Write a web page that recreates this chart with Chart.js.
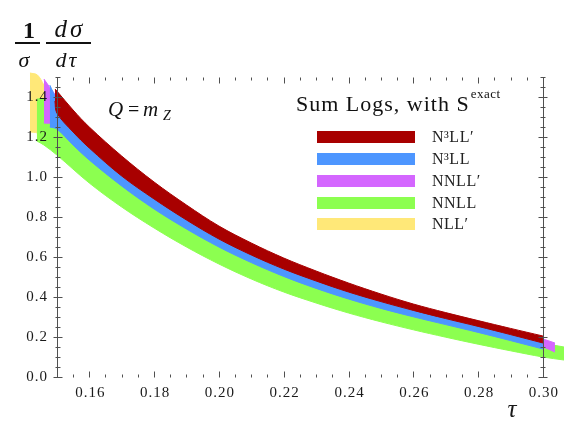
<!DOCTYPE html>
<html>
<head>
<meta charset="utf-8">
<script src="https://cdn.jsdelivr.net/npm/chart.js@4.4.0/dist/chart.umd.min.js"></script>
<style>
html, body { margin: 0; padding: 0; background: #fff; }
#wrap { width: 564px; height: 423px; }
</style>
</head>
<body>
<div id="wrap"><canvas id="thrustChart" width="564" height="423"></canvas></div>
<script>
// N3LL'
var tauN3LLp = [0.1494, 0.15, 0.155, 0.16, 0.17, 0.18, 0.19, 0.20, 0.21, 0.22, 0.23, 0.24, 0.25, 0.26, 0.27, 0.28, 0.29, 0.30];
var hiN3LLp  = [1.44, 1.43, 1.335, 1.25, 1.105, 0.975, 0.86, 0.755, 0.67, 0.595, 0.53, 0.47, 0.415, 0.365, 0.322, 0.282, 0.243, 0.205];
var loN3LLp  = [1.38, 1.32, 1.225, 1.145, 1.005, 0.89, 0.785, 0.69, 0.61, 0.54, 0.48, 0.425, 0.377, 0.333, 0.292, 0.253, 0.212, 0.17];

// N3LL
var tauN3LL = [0.1478, 0.15, 0.155, 0.16, 0.17, 0.18, 0.19, 0.20, 0.21, 0.22, 0.23, 0.24, 0.25, 0.26, 0.27, 0.28, 0.29, 0.30];
var hiN3LL  = [1.46, 1.39, 1.29, 1.19, 1.04, 0.925, 0.815, 0.72, 0.635, 0.565, 0.505, 0.445, 0.393, 0.348, 0.307, 0.268, 0.228, 0.185];
var loN3LL  = [1.25, 1.24, 1.16, 1.085, 0.955, 0.84, 0.74, 0.65, 0.572, 0.503, 0.443, 0.39, 0.343, 0.301, 0.262, 0.223, 0.182, 0.14];

// NNLL'
var tauNNLLp = [0.146, 0.15, 0.16, 0.17, 0.18, 0.19, 0.20, 0.21, 0.22, 0.23, 0.24, 0.25, 0.26, 0.27, 0.28, 0.29, 0.30, 0.3037];
var hiNNLLp  = [1.49, 1.40, 1.20, 1.05, 0.935, 0.825, 0.725, 0.64, 0.567, 0.507, 0.45, 0.397, 0.352, 0.311, 0.272, 0.232, 0.19, 0.17];
var loNNLLp  = [1.27, 1.26, 1.095, 0.965, 0.85, 0.75, 0.66, 0.582, 0.513, 0.453, 0.4, 0.353, 0.311, 0.272, 0.233, 0.192, 0.15, 0.125];

// NNLL
var tauNNLL = [0.1438, 0.146, 0.15, 0.16, 0.17, 0.18, 0.19, 0.20, 0.21, 0.22, 0.23, 0.24, 0.25, 0.26, 0.27, 0.28, 0.29, 0.30, 0.3065];
var hiNNLL  = [1.39, 1.39, 1.32, 1.145, 1.005, 0.89, 0.785, 0.69, 0.61, 0.54, 0.48, 0.425, 0.377, 0.333, 0.292, 0.253, 0.212, 0.17, 0.15];
var loNNLL  = [1.18, 1.16, 1.11, 0.97, 0.85, 0.745, 0.65, 0.565, 0.49, 0.425, 0.37, 0.32, 0.276, 0.236, 0.199, 0.164, 0.131, 0.10, 0.085];

// NLL'
var tauNLLp = [0.1417, 0.144, 0.146, 0.15, 0.16, 0.17, 0.18, 0.19, 0.20, 0.21, 0.22, 0.23, 0.24, 0.25, 0.26, 0.27, 0.28, 0.29, 0.30];
var hiNLLp  = [1.52, 1.51, 1.46, 1.36, 1.17, 1.02, 0.905, 0.80, 0.705, 0.62, 0.55, 0.49, 0.435, 0.385, 0.34, 0.30, 0.263, 0.225, 0.18];
var loNLLp  = [1.225, 1.22, 1.20, 1.15, 1.00, 0.88, 0.77, 0.675, 0.59, 0.515, 0.45, 0.395, 0.345, 0.3, 0.258, 0.22, 0.185, 0.152, 0.12];

var legendLabels = ["N\u00b3LL\u2032", "N\u00b3LL", "NNLL\u2032", "NNLL", "NLL\u2032"];
var bandColors = ["#a80000", "#4d96ff", "#d466ff", "#8cff50", "#ffe878"];

var xTicks = [0.16, 0.18, 0.20, 0.22, 0.24, 0.26, 0.28, 0.30];
var xTickLabels = ["0.16", "0.18", "0.20", "0.22", "0.24", "0.26", "0.28", "0.30"];
var yTicks = [0.0, 0.2, 0.4, 0.6, 0.8, 1.0, 1.2, 1.4];
var yTickLabels = ["0.0", "0.2", "0.4", "0.6", "0.8", "1.0", "1.2", "1.4"];

var frameX = [0.15, 0.30];
var frameY = [0.0, 1.5];

function band(taus, hi, lo, color) {
    var up = [], dn = [];
    for (var i = 0; i < taus.length; i++) {
        up.push({x: taus[i], y: hi[i]});
        dn.push({x: taus[i], y: lo[i]});
    }
    var common = {
        borderColor: color,
        borderWidth: 1,
        pointRadius: 0,
        tension: 0.35
    };
    return [
        Object.assign({data: up, fill: false}, common),
        Object.assign({data: dn, fill: '-1', backgroundColor: color}, common)
    ];
}

var datasets = [].concat(
    band(tauN3LLp, hiN3LLp, loN3LLp, bandColors[0]),
    band(tauN3LL, hiN3LL, loN3LL, bandColors[1]),
    band(tauNNLLp, hiNNLLp, loNNLLp, bandColors[2]),
    band(tauNNLL, hiNNLL, loNNLL, bandColors[3]),
    band(tauNLLp, hiNLLp, loNLLp, bandColors[4])
);

var framePlugin = {
    id: 'frame',
    afterDraw: function(chart) {
        var ctx = chart.ctx;
        var xs = chart.scales.x, ys = chart.scales.y;
        var xL = Math.round(xs.getPixelForValue(frameX[0])) + 0.5;
        var xR = Math.round(xs.getPixelForValue(frameX[1])) + 0.5;
        var yB = Math.round(ys.getPixelForValue(frameY[0])) + 0.5;
        var yT = Math.round(ys.getPixelForValue(frameY[1])) + 0.5;
        ctx.save();
        ctx.strokeStyle = '#505050';
        ctx.lineWidth = 1;
        ctx.beginPath();
        ctx.moveTo(xL, yT); ctx.lineTo(xL, yB);
        ctx.moveTo(xR, yT); ctx.lineTo(xR, yB);
        // y ticks, left and right
        for (var k = 0; k <= 30; k++) {
            var y = Math.round(ys.getPixelForValue(k * 0.05)) + 0.5;
            var len = (k % 4 === 0) ? 5 : 3;
            ctx.moveTo(xL - len + 1, y); ctx.lineTo(xL + len, y);
            ctx.moveTo(xR - len, y); ctx.lineTo(xR + len - 1, y);
        }
        // x ticks, bottom and top
        for (var j = 0; j <= 30; j++) {
            var x = Math.round(xs.getPixelForValue(0.15 + j * 0.005)) + 0.5;
            var l = ((j - 2) % 4 === 0) ? 6 : 3;
            ctx.moveTo(x, yB); ctx.lineTo(x, yB - l);
            ctx.moveTo(x, yT); ctx.lineTo(x, yT + l);
        }
        ctx.stroke();

        // tick labels
        ctx.fillStyle = '#1a1a1a';
        ctx.font = '15px "Liberation Serif"';
        ctx.letterSpacing = '1px';
        ctx.textAlign = 'right';
        ctx.textBaseline = 'middle';
        for (var a = 0; a < yTicks.length; a++) {
            ctx.fillText(yTickLabels[a], 48, ys.getPixelForValue(yTicks[a]));
        }
        ctx.textAlign = 'center';
        for (var b = 0; b < xTicks.length; b++) {
            ctx.fillText(xTickLabels[b], xs.getPixelForValue(xTicks[b]) + 1, 393);
        }
        ctx.letterSpacing = '0px';

        // axis title tau
        ctx.font = 'italic 25px "Liberation Serif"';
        ctx.textAlign = 'center';
        ctx.textBaseline = 'alphabetic';
        ctx.fillText('\u03c4', 512, 417);

        // 1/sigma dsigma/dtau
        ctx.fillStyle = '#111';
        ctx.font = 'bold 24px "Liberation Serif"';
        ctx.fillText('1', 29, 38);
        ctx.font = 'italic 25px "Liberation Serif"';
        ctx.letterSpacing = '3px';
        ctx.fillText('d\u03c3', 70, 37);
        ctx.font = 'italic 22px "Liberation Serif"';
        ctx.letterSpacing = '0px';
        ctx.fillText('\u03c3', 24, 67);
        ctx.letterSpacing = '2px';
        ctx.fillText('d\u03c4', 67, 67);
        ctx.letterSpacing = '0px';
        ctx.strokeStyle = '#111';
        ctx.lineWidth = 1.8;
        ctx.beginPath();
        ctx.moveTo(15, 43); ctx.lineTo(40, 43);
        ctx.moveTo(46, 43); ctx.lineTo(91, 43);
        ctx.stroke();

        // Q = mZ
        ctx.textAlign = 'left';
        ctx.font = 'italic 21px "Liberation Serif"';
        ctx.fillText('Q', 108, 116);
        ctx.font = '20px "Liberation Serif"';
        ctx.fillText('=', 128, 116);
        ctx.font = 'italic 21px "Liberation Serif"';
        ctx.fillText('m', 143, 116);
        ctx.font = 'italic 14px "Liberation Serif"';
        ctx.fillText('Z', 163, 120);

        // legend title
        ctx.font = '22px "Liberation Serif"';
        ctx.letterSpacing = '1px';
        ctx.fillText('Sum Logs, with S', 296, 111);
        var w = ctx.measureText('Sum Logs, with S').width;
        ctx.font = '13px "Liberation Serif"';
        ctx.letterSpacing = '0.5px';
        ctx.fillText('exact', 296 + w + 1, 98);
        ctx.letterSpacing = '0px';

        // legend entries
        var rows = [137, 159, 181, 203, 224];
        ctx.font = '16px "Liberation Serif"';
        ctx.letterSpacing = '0.5px';
        ctx.textBaseline = 'middle';
        for (var r = 0; r < legendLabels.length; r++) {
            ctx.fillStyle = bandColors[r];
            ctx.fillRect(317, rows[r] - 6, 98, 12);
            ctx.fillStyle = '#222';
            ctx.fillText(legendLabels[r], 432, rows[r] + 1);
        }
        ctx.restore();
    }
};

var ctx = document.getElementById('thrustChart');
var thrustChart = new Chart(ctx, {
    type: 'line',
    data: { datasets: datasets },
    options: {
        responsive: false,
        animation: false,
        devicePixelRatio: 1,
        layout: { padding: { left: 29, right: 0, top: 67, bottom: 46 } },
        plugins: {
            legend: { display: false },
            tooltip: { enabled: false },
            filler: { propagate: false }
        },
        scales: {
            x: { type: 'linear', min: 0.1414, max: 0.3065, display: false },
            y: { type: 'linear', min: 0, max: 1.55, display: false }
        }
    },
    plugins: [framePlugin]
});
</script>
</body>
</html>
